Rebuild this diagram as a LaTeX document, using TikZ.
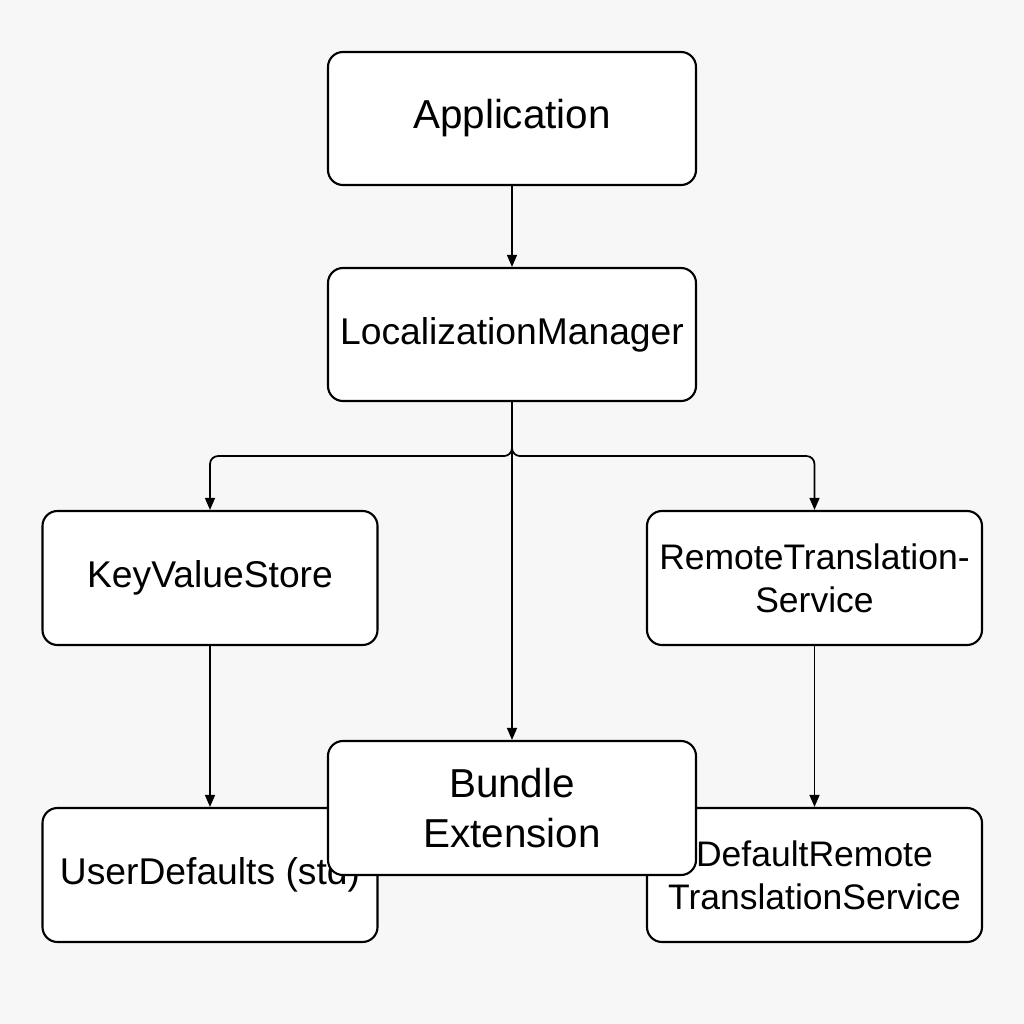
\documentclass[tikz,border=0pt]{standalone}
\usepackage{fontspec}
\setmainfont{Liberation Sans}
\usetikzlibrary{arrows.meta}
\definecolor{bgcol}{RGB}{247,247,247}

\begin{document}
\begin{tikzpicture}[
		box/.style = {draw, fill=white, line width=0.6pt, rounded corners=0.15cm, minimum width=3.68cm, minimum height=1.33cm, inner sep=0pt, align=center},
		smallbox/.style = {box, minimum width=3.35cm, minimum height=1.34cm},
		bigtext/.style = {font=\fontsize{11.5}{14.2}\selectfont},
		smalltext/.style = {font=\fontsize{10.6}{12.4}\selectfont},
		twolinetext/.style = {font=\fontsize{10.1}{12.3}\selectfont},
		link/.style = {-{Triangle[length=3.4pt,width=2.8pt]}, line width=0.5pt, rounded corners=0.08cm}
	]
			\fill[bgcol] (0,0) rectangle (10.24,10.24);
			\useasboundingbox (0,0) rectangle (10.24,10.24);
			\node[box, bigtext] (app) at (5.12,9.055) {Application};
			\node[box, smalltext] (lm) at (5.12,6.895) {LocalizationManager};
			\node[smallbox, smalltext] (kv) at (2.10,4.46) {KeyValueStore};
			\node[smallbox, twolinetext] (rts) at (8.145,4.46) {RemoteTranslation-\\Service};
			\node[smallbox, smalltext] (ud) at (2.10,1.49) {UserDefaults (std)};
			\node[smallbox, twolinetext] (drts) at (8.145,1.49) {DefaultRemote\\TranslationService};
			\node[box, bigtext, minimum height=1.34cm] (bundle) at (5.12,2.16) {Bundle\\Extension};
			\draw[link] (app) -- (lm);
			\draw[link] (lm.south) -- ++(0,-0.54) -| (kv.north);
			\draw[link] (lm.south) -- ++(0,-0.54) -| (rts.north);
			\draw[link] (lm.south) -- (bundle.north);
			\draw[link] (kv) -- (ud);
			\draw[link] (rts) -- (drts);
	\end{tikzpicture}
\end{document}
